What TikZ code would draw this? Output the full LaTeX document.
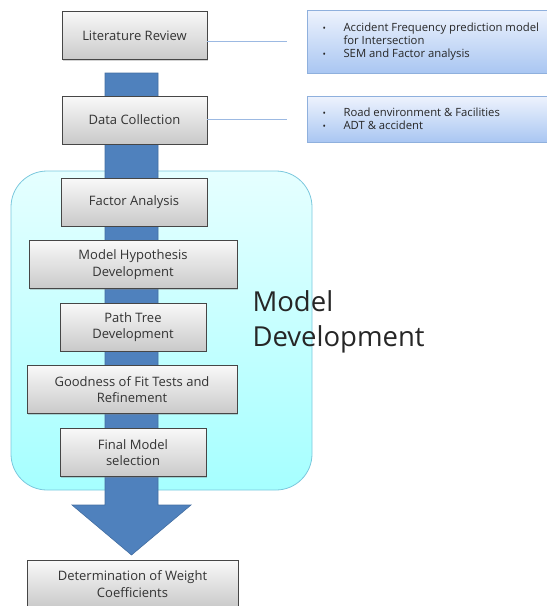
\documentclass[tikz,border=0pt]{standalone}
\usepackage{fontspec}
\setmainfont{Open Sans}
\usetikzlibrary{calc,shadows}
\definecolor{shaftblue}{HTML}{4F81BD}
\definecolor{panelline}{HTML}{7BC8DD}
\definecolor{notetop}{HTML}{EEF3FD}
\definecolor{notebot}{HTML}{A9C6F2}
\definecolor{noteline}{HTML}{8FB0DD}
\definecolor{linkblue}{HTML}{9CB9E2}
\tikzset{
  stepbox/.style={draw=gray!55!black,top color=gray!5,bottom color=gray!42,
    minimum height=48,align=center,inner sep=2pt,
    font=\fontsize{13}{16.5}\selectfont,text=black!80,
    drop shadow={shadow xshift=1.2pt,shadow yshift=-1.2pt,opacity=.35}},
  notebox/.style={draw=noteline,top color=notetop,bottom color=notebot,
    anchor=north west,inner sep=0pt,
    drop shadow={shadow xshift=1.2pt,shadow yshift=-1.2pt,opacity=.3}},
  notetext/.style={anchor=west,align=left,font=\fontsize{11.3}{13}\selectfont,text=black!85},
  link/.style={draw=linkblue,line width=1.1pt},
}
\newcommand{\itm}{\makebox[21pt][l]{\fontsize{9}{9}\selectfont\textbullet}}
\begin{document}
\begin{tikzpicture}[x=1pt,y=-1pt]
%
\useasboundingbox (0,0) rectangle (547,606);
%
\def\sl{105}
\def\sr{158}
\def\hl{72}
\def\hr{191}
%
% model development panel
\draw[panelline,line width=0.8pt,top color=cyan!10,bottom color=cyan!35!white,rounded corners=36]
  (11,171) rectangle (312,490);
%
% big arrow
\draw[shaftblue!85!black,fill=shaftblue,line width=0.6pt]
  (\sl,73) -- (\sr,73) -- (\sr,505) -- (\hr,505) -- (131.5,555) -- (\hl,505) -- (\sl,505) -- cycle;
%
% steps
\node[stepbox,minimum width=145] (lit) at (134.5,35.5) {Literature Review};
\node[stepbox,minimum width=145] (data) at (134.5,120) {Data Collection};
\node[stepbox,minimum width=146] (fact) at (134,202) {Factor Analysis};
\node[stepbox,minimum width=208] (hyp) at (133,264.5) {Model Hypothesis\\Development};
\node[stepbox,minimum width=146] (path) at (133,327) {Path Tree\\Development};
\node[stepbox,minimum width=210] (good) at (132,389.5) {Goodness of Fit Tests and\\Refinement};
\node[stepbox,minimum width=146] (final) at (133,452.5) {Final Model\\selection};
\node[stepbox,minimum width=211] (det) at (132.5,584) {Determination of Weight\\Coefficients};
%
% notes
\node[notebox,minimum width=245,minimum height=63] (rb1) at (307,10) {};
\node[notetext] (t1) at ($(rb1.west)+(12,0)$)
  {\itm Accident Frequency prediction model\\\hspace*{21pt}for Intersection\\\itm SEM and Factor analysis};
\node[notebox,minimum width=245,minimum height=46] (rb2) at (307,96) {};
\node[notetext] (t2) at ($(rb2.west)+(12,0)$)
  {\itm Road environment \& Facilities\\\itm ADT \& accident};
%
\coordinate (e1) at ($(rb1.west)+(-20,0)$);
\coordinate (e2) at ($(rb2.west)+(-20,0)$);
\draw[link] (lit.east |- e1) -- (e1);
\draw[link] (data.east |- e2) -- (e2);
%
\node[anchor=west,align=left,font=\fontsize{27.5}{35}\selectfont,text=black!85] (md) at (249,322)
  {Model\\Development};
%
\end{tikzpicture}
\end{document}
